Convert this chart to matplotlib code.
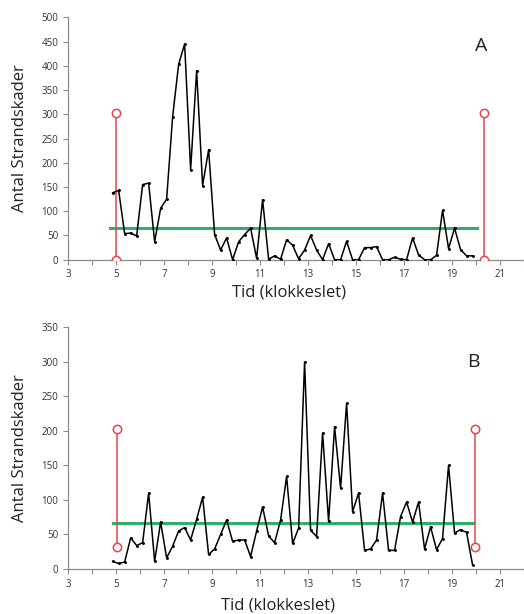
"""Strandskader pr. kvarter, to perioder (A og B)."""

import matplotlib as mpl
import matplotlib.pyplot as plt
import numpy as np

# kvarters-tider (klokkeslet, timer)
tid = 4.86 + 0.25 * np.arange(61)

skader_a = [138, 143, 54, 55, 49, 155, 158, 37, 106, 125,
            295, 403, 445, 186, 390, 153, 227, 52, 20, 45,
            0, 37, 52, 65, 3, 124, 1, 8, 1, 41,
            30, 2, 20, 50, 20, 0, 33, 0, 0, 38,
            0, 0, 25, 25, 27, 0, 0, 5, 1, 0,
            45, 10, 0, 0, 9, 102, 23, 65, 21, 8, 8]

skader_b = [11, 8, 10, 45, 34, 38, 110, 11, 68, 16,
            33, 55, 60, 42, 72, 104, 21, 29, 50, 71,
            40, 42, 42, 18, 55, 90, 48, 38, 71, 134,
            37, 59, 300, 56, 47, 197, 69, 206, 117, 240,
            83, 110, 27, 29, 42, 110, 27, 27, 76, 97,
            68, 97, 29, 61, 28, 44, 150, 52, 57, 53, 6]

middel = [66, 66]
middel_span = [(4.75, 20.03), (4.89, 19.89)]
graense = [((5.0, 20.33), (0, 303)), ((5.05, 19.95), (32, 203))]
ymax = [500, 350]
paneler = ["A", "B"]
etiket_pos = [(20.2, 440), (19.9, 300)]

ROED = "#e9434b"
GROEN = "#2eb067"
GRAA = "#8c8c8c"

mpl.rcParams.update({
    "font.family": ["Open Sans", "DejaVu Sans"],
    "axes.edgecolor": GRAA,
    "xtick.color": GRAA,
    "ytick.color": GRAA,
    "xtick.labelcolor": "#333333",
    "ytick.labelcolor": "#333333",
})

fig = plt.figure(figsize=(5.24, 6.14), dpi=100)
rects = [[0.1298, 0.577, 0.870, 0.3948], [0.1298, 0.0733, 0.870, 0.3936]]
# placering af x-aksetitel (figur-koordinater)
xlabel_pos = [(288.5 / 524, 1 - 292.7 / 614), (278 / 524, 1 - 605 / 614)]

for i, serie in enumerate([skader_a, skader_b]):
    ax = fig.add_axes(rects[i])
    x0, x1 = middel_span[i]
    ax.plot([x0, x1], [middel[i], middel[i]], color=GROEN, lw=2.2, zorder=2)
    xs, ys = graense[i]
    for xv in xs:
        ax.plot([xv, xv], ys, color=ROED, lw=1.1, zorder=3)
        ax.plot([xv, xv], ys, ls="none", marker="o", ms=6, mfc="white",
                mec=ROED, mew=1.1, zorder=4)
    ax.plot(tid, serie, color="black", lw=1.1, marker="o", ms=1.1, zorder=5)

    ax.set_xlim(3, 22)
    ax.set_ylim(0, ymax[i])
    ax.set_xticks(np.arange(3, 23, 1))
    ax.set_xticklabels([str(t) if t % 2 == 1 else "" for t in range(3, 23)])
    ax.set_yticks(np.arange(0, ymax[i] + 1, 50))
    ax.tick_params(labelsize=7, length=3.5, width=0.8, direction="out")
    for side in ["top", "right"]:
        ax.spines[side].set_visible(False)
    ax.spines["left"].set_linewidth(0.9)
    ax.spines["bottom"].set_linewidth(0.9)
    ax.set_ylabel("Antal Strandskader", fontsize=12, color="#222222", labelpad=10)
    fig.text(*xlabel_pos[i], "Tid (klokkeslet)", fontsize=12, color="#222222",
             ha="center", va="center")
    ax.text(*etiket_pos[i], paneler[i], fontsize=14, color="#222222",
            ha="center", va="center")

fig.savefig("out.png", dpi=100)
